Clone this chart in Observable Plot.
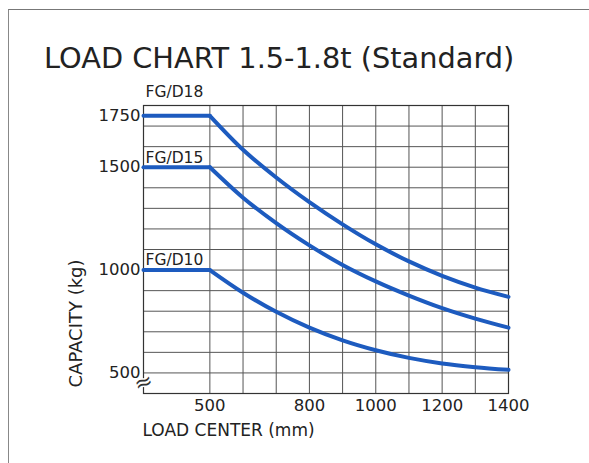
<!DOCTYPE html>
<html>
<head>
<meta charset="utf-8">
<script src="https://cdn.jsdelivr.net/npm/d3@7"></script>
<script src="https://cdn.jsdelivr.net/npm/@observablehq/plot@0.6"></script>
<style>
  html, body { margin: 0; padding: 0; background: #fff; }
  #wrap { position: relative; width: 589px; height: 463px; overflow: hidden; font-family: "DejaVu Sans", sans-serif; }
  #card { position: absolute; left: 8px; top: 9px; width: 620px; height: 500px; border-top: 1.5px solid #777; border-left: 1.5px solid #888; }
  #title { position: absolute; left: 44px; top: 41px; font-size: 28.8px; color: #222; white-space: nowrap; }
  #chart { position: absolute; left: 0; top: 80px; }
</style>
</head>
<body>
<div id="wrap">
  <div id="card"></div>
  <div id="title">LOAD CHART 1.5-1.8t (Standard)</div>
  <div id="chart"></div>
</div>
<script>
// Data
const loadCenters = [300, 500, 600, 700, 800, 900, 1000, 1100, 1200, 1300, 1400];
const fgd18 = [1750, 1750, 1585, 1450, 1330, 1222, 1125, 1042, 972, 915, 870];
const fgd15 = [1500, 1500, 1352, 1228, 1120, 1025, 945, 876, 815, 764, 720];
const fgd10 = [1000, 1000, 890, 797, 720, 658, 610, 573, 546, 528, 515];
const seriesNames = ["FG/D18", "FG/D15", "FG/D10"];
const seriesValues = [fgd18, fgd15, fgd10];
const xTicks = [500, 800, 1000, 1200, 1400];
const yTicks = [500, 1000, 1500, 1750];
const xGrid = [500, 600, 700, 800, 900, 1000, 1100, 1200, 1300, 1400];
const yGrid = [500, 600, 700, 800, 900, 1000, 1100, 1200, 1300, 1400, 1500, 1600, 1700];
const labelOffsets = [-19, -4, -5];

const rows = [];
seriesNames.forEach((name, s) => {
  loadCenters.forEach((x, i) => rows.push({series: name, x, y: seriesValues[s][i]}));
});
const flat = rows.filter(d => d.x <= 500);
const curved = rows.filter(d => d.x >= 500);
const blue = "#1d5bbf";
const fmt = d => String(d);

const chart = Plot.plot({
  width: 589,
  height: 383,
  marginLeft: 143,
  marginRight: 81,
  marginTop: 25,
  marginBottom: 70,
  style: {fontFamily: "DejaVu Sans, sans-serif", fontSize: "16.5px", color: "#222", background: "transparent"},
  x: {domain: [300, 1400], label: null},
  y: {domain: [400, 1800], label: null},
  marks: [
    Plot.gridX(xGrid, {stroke: "#555", strokeOpacity: 1, strokeWidth: 1}),
    Plot.gridY(yGrid, {stroke: "#555", strokeOpacity: 1, strokeWidth: 1}),
    Plot.frame({stroke: "#333", strokeWidth: 1.2}),
    Plot.line(flat, {x: "x", y: "y", z: "series", stroke: blue, strokeWidth: 4, curve: "linear"}),
    Plot.line(curved, {x: "x", y: "y", z: "series", stroke: blue, strokeWidth: 4, curve: "monotone-x"}),
    ...seriesNames.map((name, s) => Plot.text([name], {
      x: () => 300, y: () => seriesValues[s][0], text: d => d,
      textAnchor: "start", lineAnchor: "bottom", dx: 2, dy: labelOffsets[s],
      fontSize: 15.5, fill: "#222"
    })),
    Plot.text(["≈"], {frameAnchor: "bottom-left", text: d => d, dy: -11, dx: 0, fontSize: 22, rotate: -20,
      fill: "#333", stroke: "white", strokeWidth: 3, lineAnchor: "middle", textAnchor: "middle"}),
    Plot.text(["LOAD CENTER (mm)"], {frameAnchor: "bottom-left", text: d => d, dy: 30, dx: -1,
      textAnchor: "start", lineAnchor: "top", fontSize: 17, fill: "#222"}),
    Plot.text(["CAPACITY (kg)"], {frameAnchor: "bottom-left", text: d => d, dx: -67, dy: -6,
      rotate: -90, textAnchor: "start", lineAnchor: "middle", fontSize: 18, fill: "#222"}),
    Plot.axisX({ticks: xTicks, tickFormat: fmt, tickSize: 0, tickPadding: 6, label: null}),
    Plot.axisY({ticks: yTicks, tickFormat: fmt, tickSize: 0, tickPadding: 3, label: null})
  ]
});
document.getElementById("chart").appendChild(chart);
</script>
</body>
</html>
